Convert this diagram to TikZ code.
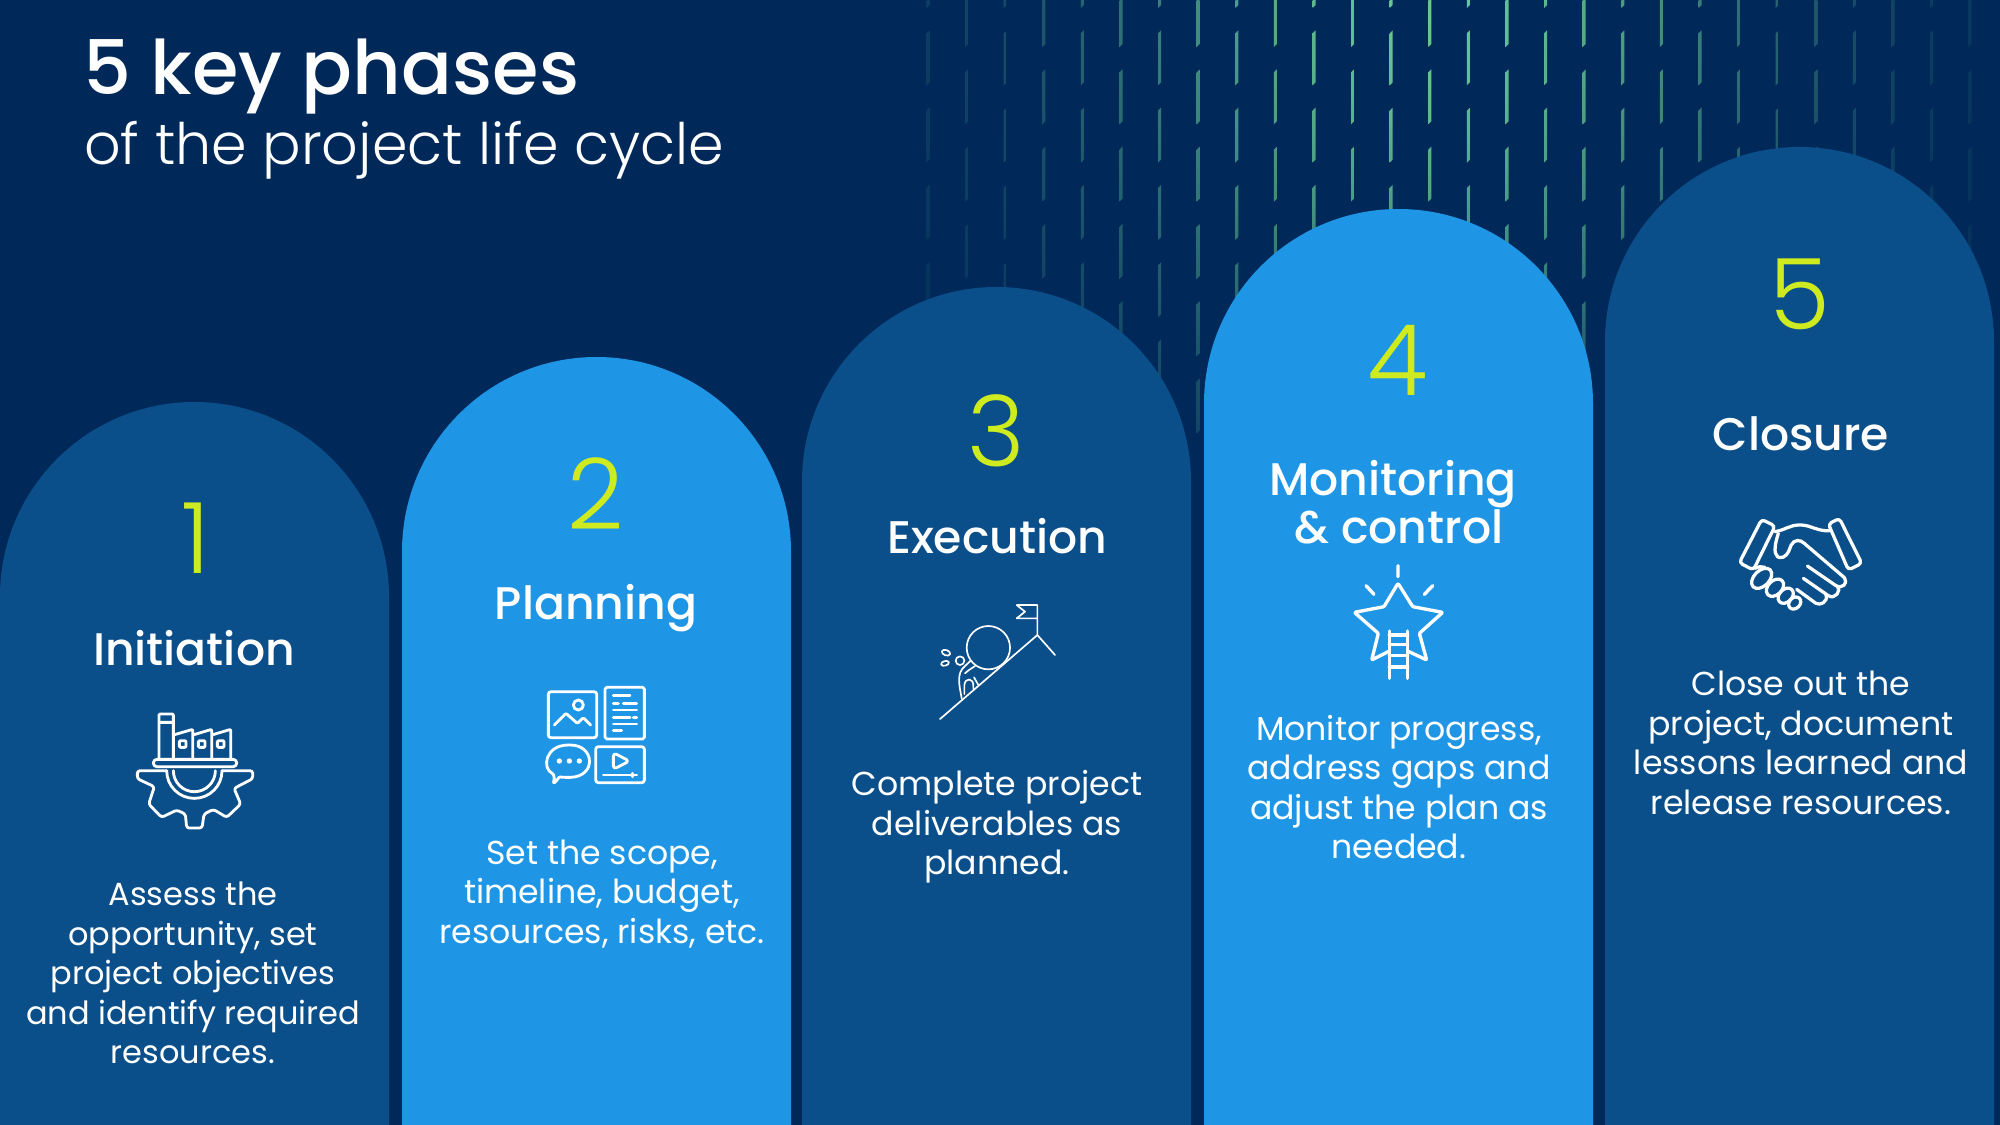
\documentclass[tikz,border=0pt]{standalone}
\usepackage{fontspec}
\setmainfont{Poppins}
\newfontfamily\pmed{Poppins Medium}
\newfontfamily\plight{Poppins Light}
\definecolor{bgc}{HTML}{00295A}
\definecolor{darkarch}{HTML}{0B4F8A}
\definecolor{lightarch}{HTML}{1E96E5}
\definecolor{limec}{HTML}{CDEB1E}
\definecolor{mint}{HTML}{66C892}
\tikzset{
 x=0.04cm,y=-0.04cm,
 numtxt/.style={text=limec,font=\plight\fontsize{112}{112}\selectfont,inner sep=0pt,anchor=base},
 headtxt/.style={text=white,font=\pmed\fontsize{52}{56}\selectfont,inner sep=0pt,align=center,anchor=base},
 bodytxt/.style={text=white,font=\fontsize{37.7}{45}\selectfont,inner sep=0pt,align=center,anchor=center},
 icon/.style={draw=white,line width=3.2pt,line join=round,line cap=round,rounded corners=1.2pt},
 iconthin/.style={draw=white,line width=1.9pt,line join=round,line cap=round},
 iconframe/.style={x=0.013333cm,y=-0.013333cm},
}
\newcommand{\archshape}[3]{\fill[#3] (#1,1125) -- (#1,#2+194.5) arc[start angle=180,end angle=360,radius=194.5] -- (#1+389,1125) -- cycle;}
\begin{document}
\begin{tikzpicture}
\useasboundingbox (0,0) rectangle (2000,1125);
\fill[bgc] (0,0) rectangle (2000,1125);
% falling dashes
\foreach \i in {0,...,27}{
  \pgfmathsetmacro{\cx}{928+38.6*\i}
  \pgfmathsetmacro{\ph}{isodd(\i)?-8:-47}
  \foreach \r in {0,...,5}{
    \pgfmathsetmacro{\ya}{\ph+77.3*\r}
    \pgfmathsetmacro{\yb}{\ya+55}
    \pgfmathsetmacro{\fx}{exp(-((\cx-1430)/345)^2)}
    \pgfmathsetmacro{\oa}{100*\fx*exp(-(max(\ya,0)/380)^2)}
    \pgfmathsetmacro{\ob}{100*\fx*exp(-(\yb/380)^2)}
    \colorlet{ctop}{mint!\oa!bgc}
    \colorlet{cbot}{mint!\ob!bgc}
    \shade[top color=ctop,bottom color=cbot] (\cx-1.5,\ya+3) -- (\cx+1.5,\ya) -- (\cx+1.5,\yb-3) -- (\cx-1.5,\yb) -- cycle;
  }
}
% arches
\archshape{0}{402}{darkarch}
\archshape{402}{357}{lightarch}
\archshape{802}{287}{darkarch}
\archshape{1204}{209}{lightarch}
\archshape{1605}{147}{darkarch}
% title
\node[text=white,font=\pmed\fontsize{85.5}{86}\selectfont,inner sep=0pt,anchor=base west] (title) at (83,95) {5 key phases};
\node[text=white,font=\plight\fontsize{65}{65}\selectfont,inner sep=0pt,anchor=base west] (subtitle) at (84,165) {of the project life cycle};
% numbers
\node[numtxt] (n1) at (196,573) {1};
\node[numtxt] (n2) at (596,529) {2};
\node[numtxt] (n3) at (996,466) {3};
\node[numtxt] (n4) at (1398,396) {4};
\node[numtxt] (n5) at (1800,330) {5};
% headings
\node[headtxt] (h1) at (194,665.5) {Initiation};
\node[headtxt] (h2) at (596,619.5) {Planning};
\node[headtxt] (h3) at (997,553.5) {Execution};
\node[headtxt] (h4a) at (1393,495.5) {Monitoring};
\node[headtxt] (h4b) at (1399,543.5) {\& control};
\node[headtxt] (h5) at (1801,450.5) {Closure};
% body
\node[bodytxt,font=\fontsize{36.4}{45}\selectfont] (b1) at (193,973) {Assess the\\opportunity, set\\project objectives\\and identify required\\resources.};
\node[bodytxt] (b2) at (602,894) {Set the scope,\\timeline, budget,\\resources, risks, etc.};
\node[bodytxt] (b3) at (997,827) {Complete project\\deliverables as\\planned.};
\node[bodytxt] (b4) at (1399,787) {Monitor progress,\\address gaps and\\adjust the plan as\\needed.};
\node[bodytxt] (b5) at (1801,743) {Close out the\\project, document\\lessons learned and\\release resources.};
% icon 1: factory on a gear
\begin{scope}[shift={(110,690)},iconframe]
 \draw[icon] (147,205) -- (147,72) -- (190,72) -- (190,205) (147,97) -- (190,97);
 \draw[icon] (190,135) -- (248,118) -- (248,205) (248,135) -- (305,118) -- (305,205) (305,135) -- (362,118) -- (362,205);
 \foreach \c in {218,275,332} \draw[icon] (\c-10,152) rectangle (\c+10,172);
 \draw[icon,rounded corners=4pt] (130,208) rectangle (380,230);
 \draw[icon] (170,242) arc[start angle=180,end angle=0,radius=83];
 \draw[icon] (190,242) arc[start angle=180,end angle=0,radius=63];
 \draw[icon,rounded corners=3pt] (170,242) -- (82,242) -- (82,266) -- (133,290) -- (116,342) -- (155,382) -- (200,360) -- (226,372) -- (230,414) -- (276,414) -- (282,372) -- (310,358) -- (350,382) -- (392,342) -- (372,295) -- (428,266) -- (428,242) -- (336,242);
\end{scope}
% icon 2: media
\begin{scope}[shift={(520,670)},iconframe]
 \draw[icon,rounded corners=3pt] (85,65) rectangle (230,203);
 \draw[icon] (175,105) circle (15);
 \draw[icon] (103,165) -- (138,130) -- (172,160) -- (190,143) -- (212,165);
 \draw[icon,rounded corners=2pt] (255,52) rectangle (373,207);
 \draw[icon] (280,77) -- (330,77) (280,100) -- (295,100) (310,100) -- (350,100) (280,120) -- (350,120) (280,143) -- (330,143) (340,143) -- (350,143) (280,162) -- (350,162) (280,182) -- (305,182);
 \draw[icon] (100,340) .. controls (104,325) and (102,318) .. (100,312) .. controls (65,295) and (75,225) .. (148,225) .. controls (225,225) and (230,320) .. (148,322) .. controls (135,322) and (125,322) .. (118,320) .. controls (112,330) and (105,337) .. (100,340) -- cycle;
 \foreach \c in {118,148,178} \fill[white] (\c,273) circle (8);
 \draw[icon,rounded corners=3pt] (227,230) rectangle (373,338);
 \draw[icon,rounded corners=4pt] (280,248) -- (328,273) -- (280,298) -- cycle;
 \draw[icon] (250,315) -- (350,315) (337,310) -- (337,320);
\end{scope}
% icon 3: boulder up a hill
\begin{scope}[shift={(920,590)},iconframe]
 \draw[iconthin] (60,387) -- (352,135) -- (405,195) (352,135) -- (352,45) -- (290,45) -- (315,65) -- (290,85) -- (352,85);
 \draw[iconthin] (205,173) circle (65);
 \draw[iconthin] (120,212) circle (13);
 \draw[iconthin] (125,325) .. controls (118,285) and (108,250) .. (135,228) -- (152,212);
 \draw[iconthin] (135,250) .. controls (145,240) and (155,235) .. (165,228);
 \draw[iconthin] (133,312) -- (133,285) .. controls (135,262) and (162,262) .. (160,290) -- (160,296);
 \draw[iconthin] (162,262) -- (175,285);
 \draw[iconthin,rotate around={-20:(78,188)}] (78,188) ellipse (13 and 8);
 \draw[iconthin,rotate around={15:(75,220)}] (75,220) ellipse (12 and 7);
\end{scope}
% icon 4: star with ladder
\begin{scope}[shift={(1330,555)},iconframe]
 \draw[icon,line width=3.8pt] (204,32) -- (204,65) (108,92) -- (132,118) (308,92) -- (283,118);
 \draw[icon,line width=3.8pt] (178,288) -- (125,315) -- (145,235) -- (73,172) -- (162,155) -- (204,85) -- (248,155) -- (338,172) -- (268,235) -- (290,315) -- (233,288);
 \draw[icon,line width=3.8pt] (178,228) -- (178,370) (233,228) -- (233,370) (178,240) -- (233,240) (178,268) -- (233,268) (178,302) -- (233,302) (178,336) -- (233,336);
\end{scope}
% icon 5: handshake
\begin{scope}[shift={(1720,500)},iconframe,every path/.append style={line width=3.7pt}]
 \draw[icon,line width=3.7pt,rounded corners=4pt] (125,58) -- (165,78) -- (100,210) -- (58,188) -- cycle;
 \draw[icon,line width=3.7pt,rounded corners=4pt] (325,72) -- (358,55) -- (425,190) -- (385,210) -- cycle;
 \draw[icon,line width=3.7pt] (165,95) .. controls (195,90) and (210,75) .. (240,75) .. controls (270,75) and (295,95) .. (328,92);
 \draw[icon,line width=3.7pt] (175,100) .. controls (165,130) and (160,160) .. (175,172) .. controls (195,175) and (205,160) .. (212,138) .. controls (222,118) and (240,118) .. (255,132) -- (372,232) .. controls (385,250) and (365,268) .. (345,255) -- (262,198);
 \draw[icon,line width=3.7pt] (352,258) .. controls (365,272) and (345,300) .. (322,285) -- (250,235);
 \draw[icon,line width=3.7pt] (318,285) .. controls (325,305) and (300,318) .. (285,308) -- (230,268);
 \draw[icon,line width=3.7pt] (105,205) .. controls (115,200) and (125,198) .. (135,202);
 \draw[icon,line width=3.7pt,rotate around={45:(125,235)}] (125,235) ellipse (36 and 23);
 \draw[icon,line width=3.7pt,rotate around={45:(165,263)}] (165,263) ellipse (30 and 21);
 \draw[icon,line width=3.7pt,rotate around={45:(197,287)}] (197,287) ellipse (26 and 19);
 \draw[icon,line width=3.7pt,rotate around={45:(224,309)}] (224,309) ellipse (20 and 16);
\end{scope}
\end{tikzpicture}
\end{document}
